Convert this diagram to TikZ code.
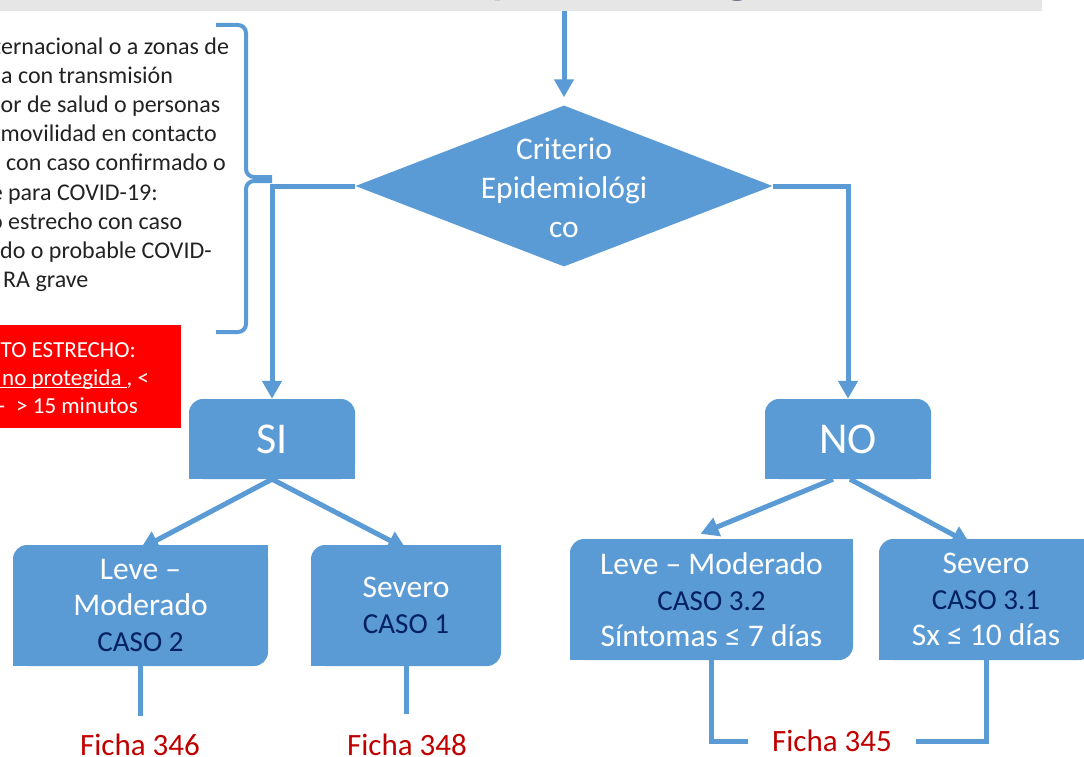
\documentclass[tikz,border=0pt]{standalone}
\usepackage{fontspec}
\setmainfont{Carlito}
\newcommand\myul[1]{\leavevmode\setbox0\hbox{#1}\rlap{\rule[-3pt]{\wd0}{1.4pt}}\box0}
\usetikzlibrary{shapes.geometric,arrows.meta,backgrounds,calc}
\definecolor{myblue}{HTML}{5B9BD5}
\definecolor{navy}{HTML}{002060}
\definecolor{fichared}{HTML}{C00000}
\definecolor{titlegray}{HTML}{E7E6E6}
\definecolor{titletext}{HTML}{44546A}
\definecolor{bodytext}{HTML}{222222}
\definecolor{redbox}{HTML}{FF0000}
\begin{document}
\begin{tikzpicture}[x=1pt,y=-1pt,
  conn/.style={draw=myblue, line width=5pt},
  arr/.style={conn, -{Triangle[width=19pt,length=18pt]}},
  box/.style={fill=myblue, inner sep=0pt, align=center, text=white,
    rounded corners=14pt, font=\fontsize{31.5}{36}\selectfont},
  bigbox/.style={box, minimum width=166pt, minimum height=80pt,
    font=\fontsize{44}{50}\selectfont},
  casebox/.style={box, minimum height=121pt},
  ficha/.style={inner sep=0pt, text=fichared, font=\fontsize{31}{36}\selectfont},
  lefttxt/.style={anchor=base west, inner sep=0pt, text=bodytext, font=\fontsize{24}{29}\selectfont},
  redtxt/.style={anchor=base west, inner sep=0pt, text=white, font=\fontsize{23}{28}\selectfont},
  brace/.style={draw=myblue, line width=4pt, rounded corners=8pt}
]
\useasboundingbox (0,0) rectangle (1084,757);
\clip (0,0) rectangle (1084,757);

% title bar
\fill[titlegray] (0,0) rectangle (1042,11);
\node[anchor=base west, inner sep=0pt, text=titletext, font=\fontsize{57}{60}\selectfont] (title) at (277,-8) {Criterio Epidemiológico};

% left text block
\node[lefttxt] (l1) at (1,55) {\llap{Viaje int}ernacional o a zonas de};
\node[lefttxt] (l2) at (1,84) {\llap{comunitari}a con transmisión};
\node[lefttxt] (l3) at (0.5,113) {\llap{Trabajad}or de salud o personas};
\node[lefttxt] (l4) at (0.5,142) {\llap{con }movilidad en contacto};
\node[lefttxt] (l5) at (6,171) {\llap{estrecho }con caso confirmado o};
\node[lefttxt] (l6) at (8,200) {\llap{probable }para COVID-19:};
\node[lefttxt] (l7) at (8,229) {\llap{Contacto }estrecho con caso};
\node[lefttxt] (l8) at (0,258) {\llap{confirma}do o probable COVID-};
\node[lefttxt] (l9) at (3,287) {RA grave};

% brace
\draw[brace] (216,25) -- (246,25) -- (246,177) -- (272,177);
\draw[brace] (272,181) -- (246,181) -- (246,332) -- (216,332);

% red box
\fill[redbox] (-5,325) rectangle (181,428);
\node[redtxt] (r1) at (0.5,357) {\llap{CONTAC}TO ESTRECHO:};
\node[redtxt] (r2) at (2,385) {\llap{\myul{Exposición }}\myul{no protegida }, <};
\node[redtxt] (r3) at (16,413) {\llap{metro -\hspace{11pt}}> 15 minutos};

% diamond
\node[diamond, fill=myblue, inner sep=0pt, minimum width=417pt, minimum height=161pt] (crit) at (564,186) {};
\node[align=center, text=white, inner sep=0pt, font=\fontsize{31.5}{39}\selectfont] (crittxt) at ($(crit.center)+(0,2)$) {Criterio\\Epidemiológi\\co};

% SI / NO boxes
\node[bigbox] (SI) at (272,439) {SI};
\node[bigbox] (NO) at (848,439) {NO};
\fill[myblue] (SI.south west) rectangle ++(15,-15);
\fill[myblue] (SI.south east) rectangle ++(-15,-15);
\fill[myblue] (NO.south west) rectangle ++(15,-15);
\fill[myblue] (NO.south east) rectangle ++(-15,-15);

% case boxes
\node[casebox, minimum width=255pt] (leve1) at (140.5,605.5)
  {Leve –\\Moderado\\{\fontsize{29}{36}\selectfont\color{navy}CASO 2}};
\node[casebox, minimum width=190pt] (sev1) at (406,605.5)
  {Severo\\{\fontsize{29}{36}\selectfont\color{navy}CASO 1}};
\node[casebox, minimum width=283pt] (leve2) at (711.5,599.5)
  {Leve – Moderado\\{\fontsize{29}{36}\selectfont\color{navy}CASO 3.2}\\Síntomas ≤ 7 días};
\node[casebox, minimum width=214pt] (sev2) at (986,599.5)
  {Severo\\{\fontsize{29}{36}\selectfont\color{navy}CASO 3.1}\\Sx ≤ 10 días};
\foreach \b in {leve1,sev1,leve2,sev2}{
  \fill[myblue] (\b.north east) rectangle ++(-15,15);
  \fill[myblue] (\b.south west) rectangle ++(15,-15);
}

% ficha labels
\node[ficha] (f346) at (140,745) {Ficha 346};
\node[ficha] (f348) at (407,745) {Ficha 348};
\node[ficha] (f345) at (832,741) {Ficha 345};

% connectors
\coordinate (topstart) at (564,11);
\begin{scope}[on background layer]
  \draw[arr, shorten >=8pt] (topstart) -- (crit.north);
  \draw[arr] (crit.west) -| (SI.north);
  \draw[arr] (crit.east) -| (NO.north);
  \draw[arr] (SI.south) -- ($(leve1.north)+(0,4)$);
  \draw[arr] (SI.south) -- ($(sev1.north)+(0,4)$);
  \draw[arr] ($(NO.south)+(-15,0)$) -- ($(leve2.north)+(-11,-5)$);
  \draw[arr] ($(NO.south)+(2,0)$) -- ($(sev2.north)+(-16,5)$);
  \draw[conn, shorten >=18pt] (leve1.south) -- (leve1.south |- f346.north);
  \draw[conn, shorten >=20pt] (sev1.south) -- (sev1.south |- f348.north);
  \draw[conn, shorten >=24pt] (leve2.south) |- (f345.west);
  \draw[conn, shorten >=24pt] (sev2.south) |- (f345.east);
\end{scope}
\end{tikzpicture}
\end{document}
